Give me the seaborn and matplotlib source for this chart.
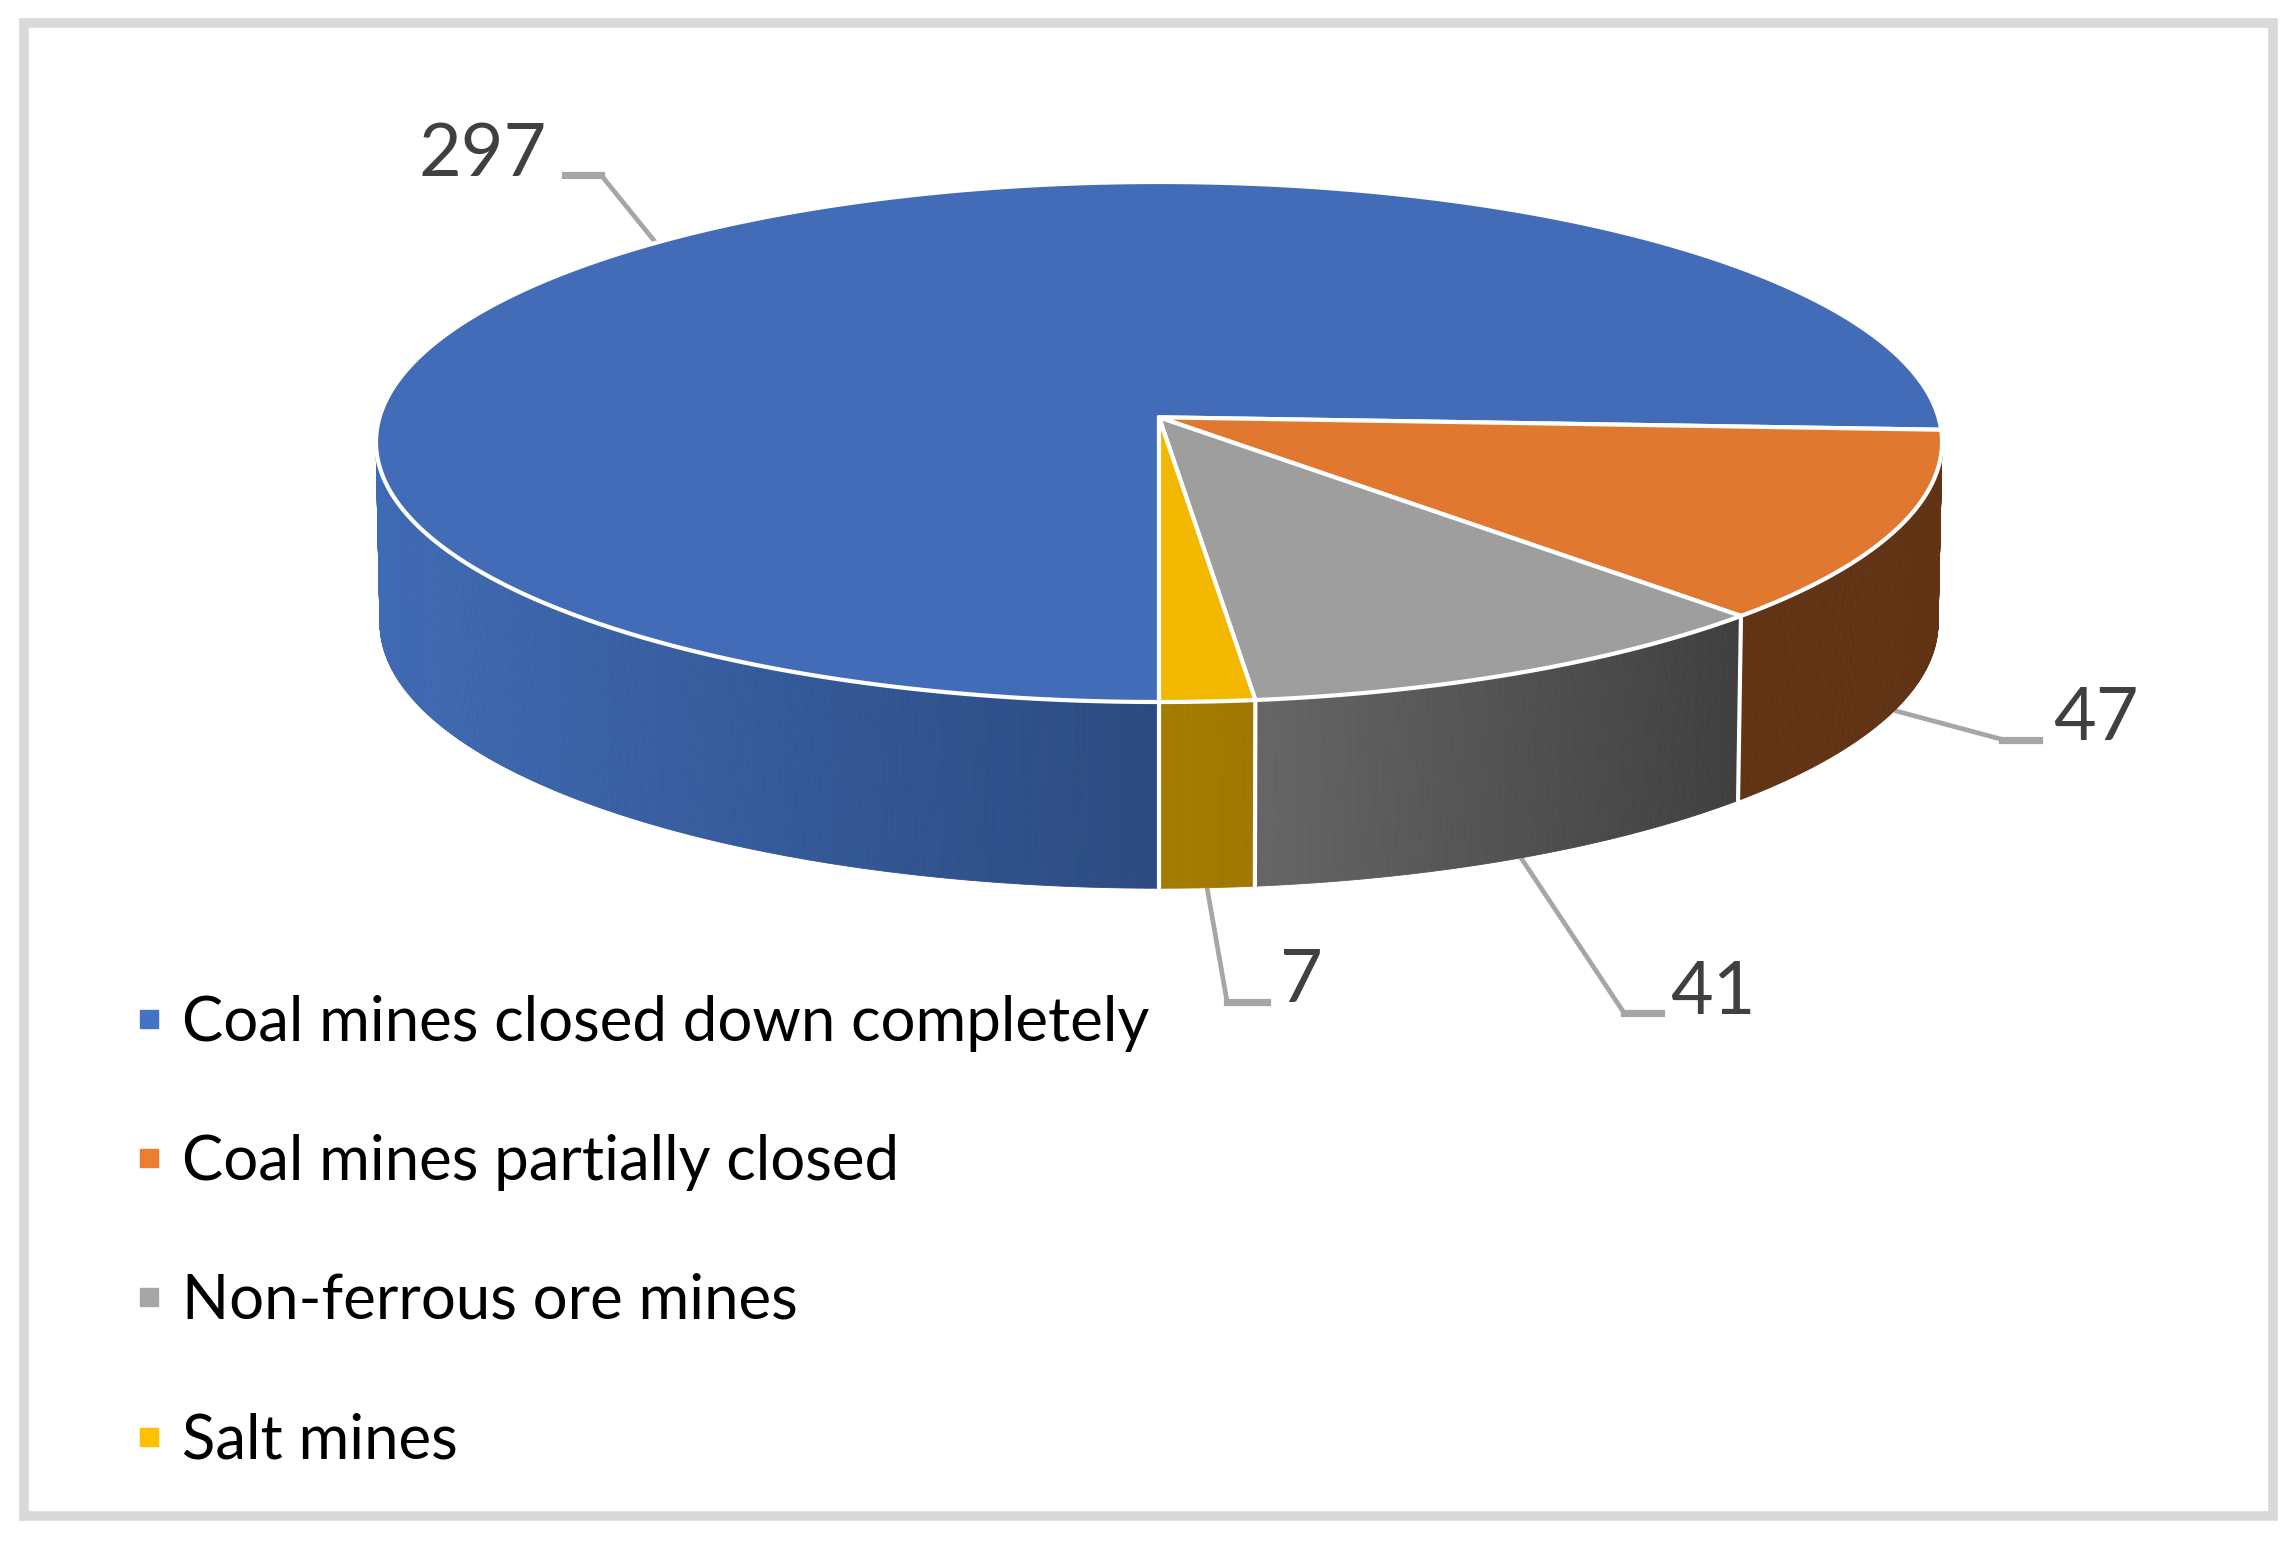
# -*- coding: utf-8 -*-

import matplotlib
matplotlib.use('Agg')
import matplotlib.pyplot as plt
from matplotlib.colors import to_rgb
from matplotlib.lines import Line2D
from matplotlib.patches import Polygon, Rectangle
import numpy as np
import seaborn as sns

# data
labels = ['Coal mines closed down completely', 'Coal mines partially closed',
          'Non-ferrous ore mines', 'Salt mines']
values = [297, 47, 41, 7]

# colours
top_colors = ['#426CB7', '#E07830', '#9E9E9E', '#F2B800']
legend_colors = ['#4472C4', '#ED7D31', '#A5A5A5', '#FFC000']
side_left = ['#3F6AB4', '#613314', '#666666', '#A47C00']
side_right = ['#2B4A80', '#613314', '#3F3F3F', '#A07800']

sns.set_theme(style='white')
plt.rcParams['font.family'] = ['Lato', 'DejaVu Sans']

W, H = 2295, 1542
fig = plt.figure(figsize=(W / 100, H / 100), dpi=100)
ax = fig.add_axes([0, 0, 1, 1])
ax.set_xlim(0, W)
ax.set_ylim(H, 0)
ax.axis('off')

# disc geometry in pixels
cx, cy, rx, ry = 1159, 442, 783, 260
depth = 181
k = -0.095  # perspective, puts the apex above the ellipse centre


def project(theta, r=1.0):
    """theta in degrees, clockwise from 12 o'clock"""
    t = np.radians(theta)
    u = r * np.sin(t)
    v = -r * np.cos(t)
    den = 1 + k * v
    return cx + rx * u * np.sqrt(1 - k ** 2) / den, cy + ry * (v + k) / den


def lower(x, y):
    # bottom rim is a touch smaller than the top one
    return cx + (x - cx) * 0.995, y + depth + (y - cy) * 0.02


total = sum(values)
spans = np.array(values) / total * 360
starts = 180 + np.concatenate([[0], np.cumsum(spans)[:-1]])
ends = starts + spans

ax.add_patch(Rectangle((24, 23), 2249, 1493, fill=False, ec='#D9D9D9', lw=7, zorder=0))

# side wall, thin strips so the shading runs from left to right
for i in range(len(values)):
    # wrap so that every angle is measured from the front half of the disc
    th = np.arange(starts[i], ends[i] + 0.25, 0.25)
    th = th[np.cos(np.radians(th)) < 0.12]
    th = th[th < 360] if i == 0 else th
    c0 = np.array(to_rgb(side_left[i]))
    c1 = np.array(to_rgb(side_right[i]))
    x, y = project(th)
    xb, yb = lower(x, y)
    x0, x1 = x.min(), x.max()
    for j in range(len(th) - 1):
        f = (x[j] - x0) / max(x1 - x0, 1)
        poly = [(x[j], y[j]), (x[j + 1], y[j + 1]), (xb[j + 1], yb[j + 1]), (xb[j], yb[j])]
        col = c0 + (c1 - c0) * f
        ax.add_patch(Polygon(poly, fc=col, ec=col, lw=0.6, zorder=2))

# white seams between the wall pieces, none at the far right edge
for i in [0, 2, 3]:
    x, y = project(starts[i])
    xb, yb = lower(x, y)
    ax.plot([x, xb], [y, yb], color='white', lw=3, zorder=3)

# top face
apex = project(0, 0)
for i in range(len(values)):
    th = np.linspace(starts[i], ends[i], 400)
    x, y = project(th)
    ax.add_patch(Polygon(np.column_stack([np.r_[apex[0], x], np.r_[apex[1], y]]),
                         fc=top_colors[i], ec='white', lw=3, joinstyle='round', zorder=4))

# leader lines and value labels, elbows are relative to the rim anchor
elbows = [[(-55, -68), (-91, -68)], [(108, 29), (145, 29)],
          [(103, 155), (140, 155)], [(20, 114), (60, 114)]]
text_pos = [(483, 155), (2096, 720), (1713, 994), (1301, 982)]
for i in range(len(values)):
    mid = (starts[i] + ends[i]) / 2
    x, y = project(mid)
    if np.cos(np.radians(mid)) < 0:
        x, y = lower(x, y)
    ax.plot([x, x + elbows[i][0][0]], [y, y + elbows[i][0][1]], color='#A6A6A6', lw=3.4,
            solid_capstyle='butt', zorder=1)
    ax.plot([x + elbows[i][0][0], x + elbows[i][1][0]], [y + elbows[i][0][1], y + elbows[i][1][1]],
            color='#A6A6A6', lw=5.2, solid_capstyle='projecting', zorder=1)
    ax.text(text_pos[i][0], text_pos[i][1], str(values[i]), color='#404040',
            fontsize=53, ha='center', va='center', zorder=5)

handles = [Line2D([], [], ls='none', marker='s', ms=13.5, color=c, mec=c) for c in legend_colors]
ax.legend(handles, labels, loc='upper left', bbox_to_anchor=(0.0583, 0.355), frameon=False,
          fontsize=44.5, labelcolor='black', labelspacing=1.33, handlelength=0.5,
          handletextpad=0.28, borderaxespad=0, borderpad=0)

fig.savefig('out.png', dpi=100, facecolor='white')
